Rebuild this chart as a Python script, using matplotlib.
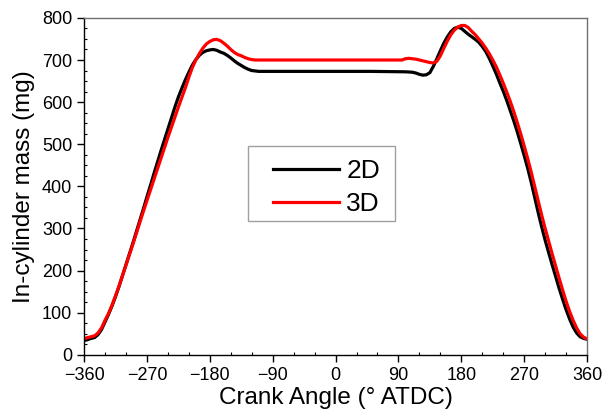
import matplotlib.pyplot as plt
import matplotlib.patches as mpatches
from matplotlib.ticker import MultipleLocator

plt.rcParams['font.family'] = ['Liberation Sans', 'DejaVu Sans']

# crank angle (deg ATDC) and in-cylinder mass (mg)
angle_2d = [-360, -355, -350, -345, -340, -335, -330, -325, -320, -315, -310, -305,
            -300, -295, -290, -285, -280, -275, -270, -265, -260, -255, -250, -245,
            -240, -235, -230, -225, -220, -215, -210, -205, -200, -195, -190, -185,
            -180, -175, -170, -165, -160, -155, -150, -145, -140, -135, -130, -125,
            -120, -115, -110, -60, 0, 50, 100, 110, 115, 120, 125, 130, 135, 140,
            145, 150, 155, 160, 165, 170, 175, 180, 185, 190, 195, 200, 205, 210,
            215, 220, 225, 230, 235, 240, 245, 250, 255, 260, 265, 270, 275, 280,
            285, 290, 295, 300, 305, 310, 315, 320, 325, 330, 335, 340, 345, 350,
            355, 360]
mass_2d = [34, 36, 39, 41, 48, 60, 78, 96, 116, 138, 162, 188,
           214, 240, 266, 293, 320, 347, 375, 402, 430, 457, 484, 510,
           536, 562, 588, 612, 633, 653, 671, 688, 701, 711, 718, 722,
           724, 725, 723, 719, 716, 711, 705, 698, 692, 687, 682, 678,
           675, 674, 673, 673, 673, 673, 672, 671, 669, 666, 664, 665, 670, 685,
           703, 722, 740, 755, 767, 775, 778, 775, 768, 761, 755, 749, 742, 732,
           720, 704, 686, 667, 646, 626, 604, 580, 556, 530, 502, 473, 443, 410,
           374, 338, 304, 272, 243, 214, 186, 158, 132, 107, 85, 66, 52, 43,
           39, 37]

angle_3d = [-360, -355, -350, -345, -340, -335, -330, -325, -320, -315, -310, -305,
            -300, -295, -290, -285, -280, -275, -270, -265, -260, -255, -250, -245,
            -240, -235, -230, -225, -220, -215, -210, -205, -200, -195, -190, -185,
            -180, -175, -170, -165, -160, -155, -150, -145, -140, -135, -130, -125,
            -120, -115, -110, -60, 0, 50, 95, 100, 105, 110, 115, 120, 125, 130,
            135, 140, 145, 150, 155, 160, 165, 170, 175, 180, 185, 190, 195, 200,
            205, 210, 215, 220, 225, 230, 235, 240, 245, 250, 255, 260, 265, 270,
            275, 280, 285, 290, 295, 300, 305, 310, 315, 320, 325, 330, 335, 340,
            345, 350, 355, 360]
mass_3d = [38, 41, 43, 45, 52, 64, 82, 98, 118, 140, 163, 188,
           213, 238, 263, 289, 315, 341, 366, 391, 416, 441, 466, 491,
           516, 540, 564, 588, 611, 634, 659, 682, 700, 715, 728, 738,
           744, 748, 749, 746, 740, 733, 725, 718, 713, 710, 706, 703,
           701, 700, 700, 700, 700, 700, 700, 703, 704, 703, 702, 700, 698, 696,
           694, 693, 697, 710, 728, 745, 760, 771, 778, 782, 782, 777, 768, 760,
           750, 740, 728, 715, 700, 684, 665, 645, 624, 602, 578, 552, 525, 496,
           466, 434, 400, 366, 332, 300, 270, 240, 211, 182, 154, 127, 103, 82,
           64, 50, 42, 38]

fig = plt.figure(figsize=(6.09, 4.16), dpi=100)
ax = fig.add_axes([0.138, 0.147, 0.826, 0.81])

ax.plot(angle_2d, mass_2d, color='black', lw=2.3, label='2D')
ax.plot(angle_3d, mass_3d, color='#ff0000', lw=2.3, label='3D')

ax.set_xlim(-360, 360)
ax.set_ylim(0, 800)
ax.xaxis.set_major_locator(MultipleLocator(90))
ax.xaxis.set_minor_locator(MultipleLocator(30))
ax.yaxis.set_major_locator(MultipleLocator(100))
ax.yaxis.set_minor_locator(MultipleLocator(25))
ax.tick_params(which='major', direction='out', length=5, width=1, labelsize=13, colors='black')
ax.tick_params(which='minor', direction='in', length=2.5, width=0.8)
ax.tick_params(axis='x', pad=4)

for side in ['top', 'right']:
    ax.spines[side].set_color('#707070')
    ax.spines[side].set_linewidth(1)
for side in ['left', 'bottom']:
    ax.spines[side].set_linewidth(1)

ax.set_xlabel('Crank Angle (° ATDC)', fontsize=17.5, labelpad=2)
ax.set_ylabel('In-cylinder mass (mg)', fontsize=17.5, labelpad=5)

# legend box drawn separately so the padding can be wider than tall
box = mpatches.Rectangle((0.326, 0.398), 0.292, 0.222, transform=ax.transAxes,
                         facecolor='white', edgecolor='#a0a0a0', lw=1, zorder=4)
ax.add_patch(box)
leg = ax.legend(loc='upper left', bbox_to_anchor=(0.3757, 0.5816), fontsize=19,
                handlelength=2.5, handletextpad=0.27, borderpad=0, labelspacing=0.35,
                frameon=False, borderaxespad=0)
leg.set_zorder(5)

plt.savefig('out.png', dpi=100)
